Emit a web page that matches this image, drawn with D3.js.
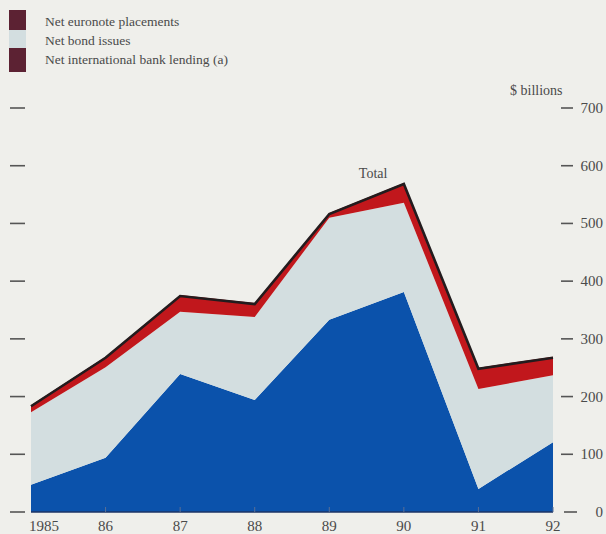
<!DOCTYPE html>
<html>
<head>
  <meta charset="utf-8">
  <title>Net international lending</title>
  <style>
    body { margin: 0; background: #efefeb; }
    svg { display: block; }
    text { font-family: "Liberation Serif", "DejaVu Serif", serif; fill: #4a4a4a; }
  </style>
</head>
<body>
  <script src="https://d3js.org/d3.v7.min.js"></script>
  <script>
    // data ($ billions)
    var years = [1985, 1986, 1987, 1988, 1989, 1990, 1991, 1992];
    var yearLabels = ['1985', '86', '87', '88', '89', '90', '91', '92'];
    var bankLending = [47, 94, 239, 194, 333, 381, 40, 121];
    var bondIssues = [126, 157, 108, 144, 177, 155, 173, 116];
    var euronotes = [12, 18, 29, 24, 8, 34, 37, 32];
    var yTicks = [0, 100, 200, 300, 400, 500, 600, 700];
    var legendLabels = ['Net euronote placements', 'Net bond issues', 'Net international bank lending (a)'];

    var width = 606, height = 534;
    var colors = { bank: '#0b52ab', bond: '#d3dee0', euro: '#c1171c' };

    var rows = years.map((d, i) => ({ year: d, bank: bankLending[i], bond: bondIssues[i], euro: euronotes[i] }));

    var x = d3.scaleLinear().domain([1985, 1992]).range([31, 553]);
    var y = d3.scaleLinear().domain([0, 700]).range([512, 108]);

    var svg = d3.select('body').append('svg')
      .attr('width', width)
      .attr('height', height);

    // stacked areas
    var stack = d3.stack().keys(['bank', 'bond', 'euro']);
    var layers = stack(rows);
    var area = d3.area()
      .x(d => x(d.data.year))
      .y0(d => y(d[0]))
      .y1(d => y(d[1]));

    svg.append('g').selectAll('path').data(layers).enter()
      .append('path')
      .attr('d', area)
      .attr('fill', d => colors[d.key]);

    // black outline for the total
    var totalLayer = layers[layers.length - 1];
    svg.append('path')
      .datum(totalLayer)
      .attr('d', d3.line().x(d => x(d.data.year)).y(d => y(d[1]) + 1))
      .attr('fill', 'none')
      .attr('stroke', '#231c1e')
      .attr('stroke-width', 2.6)
      .attr('stroke-linejoin', 'miter');

    svg.append('text')
      .attr('x', x(1990) - 45).attr('y', y(570) - 5)
      .attr('font-size', 14)
      .text('Total');

    // baseline + year ticks
    svg.append('line')
      .attr('x1', x(1985)).attr('x2', x(1992))
      .attr('y1', y(0)).attr('y2', y(0))
      .attr('stroke', '#1d3566').attr('stroke-width', 1.5);
    svg.append('g').selectAll('line').data(years.slice(1)).enter()
      .append('line')
      .attr('x1', d => x(d)).attr('x2', d => x(d))
      .attr('y1', y(0)).attr('y2', y(0) - 5)
      .attr('stroke', '#5a6f94').attr('stroke-width', 1);

    svg.append('g').selectAll('text').data(years).enter()
      .append('text')
      .attr('x', (d, i) => i === 0 ? x(d) - 2 : x(d))
      .attr('y', 531)
      .attr('text-anchor', (d, i) => i === 0 ? 'start' : 'middle')
      .attr('font-size', 15)
      .text((d, i) => yearLabels[i]);

    // left dashes
    svg.append('g').selectAll('line').data(yTicks).enter()
      .append('line')
      .attr('x1', 10).attr('x2', 25)
      .attr('y1', d => y(d)).attr('y2', d => y(d))
      .attr('stroke', '#555').attr('stroke-width', 1.6);

    // right axis
    svg.append('g').selectAll('line').data(yTicks).enter()
      .append('line')
      .attr('x1', d => d === 0 ? 564 : 561).attr('x2', d => d === 0 ? 577 : 573)
      .attr('y1', d => y(d)).attr('y2', d => y(d))
      .attr('stroke', '#555').attr('stroke-width', 1.6);
    svg.append('g').selectAll('text').data(yTicks).enter()
      .append('text')
      .attr('x', 603)
      .attr('y', d => y(d) + 5)
      .attr('text-anchor', 'end')
      .attr('font-size', 15)
      .text(d => d);

    svg.append('text')
      .attr('x', 510).attr('y', 95)
      .attr('font-size', 14)
      .text('$ billions');

    // legend
    var swatch = [
      { y: 10, h: 20, c: '#5c2233' },
      { y: 30, h: 18, c: '#d3dee0' },
      { y: 48, h: 24, c: '#5c2233' }
    ];
    svg.append('g').selectAll('rect').data(swatch).enter()
      .append('rect')
      .attr('x', 9).attr('width', 17)
      .attr('y', d => d.y).attr('height', d => d.h)
      .attr('fill', d => d.c);

    svg.append('g').selectAll('text').data(legendLabels).enter()
      .append('text')
      .attr('x', 45)
      .attr('y', (d, i) => 26 + i * 19)
      .attr('font-size', 13.5)
      .text(d => d);
  </script>
</body>
</html>
